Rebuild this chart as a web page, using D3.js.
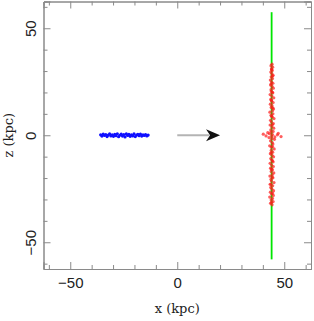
<!DOCTYPE html>
<html>
<head>
<meta charset="utf-8">
<script src="https://cdn.jsdelivr.net/npm/d3@7"></script>
<style>
  body { margin: 0; background: #fff; }
  svg { display: block; }
</style>
</head>
<body>
<div id="chart"></div>
<script>
// values (kpc)
const xMajor = [-50, 0, 50];
const xMinor = [-60, -40, -30, -20, -10, 10, 20, 30, 40, 60];
const zMajor = [-50, 0, 50];
const zMinor = [-60, -40, -30, -20, -10, 10, 20, 30, 40, 60];

// blue disk (initial galaxy), [x, z]
const bluePoints = [
    [-35.8, 0.2], [-35.2, -0.4], [-34.6, 0.5], [-34.0, -0.1], [-33.4, 0.3], [-32.8, -0.6],
    [-32.2, 0.1], [-31.6, 0.6], [-31.0, -0.3], [-30.4, 0.2], [-29.8, -0.5], [-29.2, 0.4],
    [-28.6, -0.2], [-28.0, 0.7], [-27.4, -0.7], [-26.8, 0.0], [-26.2, 0.5], [-25.6, -0.4],
    [-25.0, 0.3], [-24.4, -0.8], [-23.8, 0.6], [-23.2, -0.1], [-22.6, 0.4], [-22.0, -0.5],
    [-21.4, 0.2], [-20.8, -0.3], [-20.2, 0.6], [-19.6, -0.6], [-19.0, 0.1], [-18.4, 0.4],
    [-17.8, -0.2], [-17.2, 0.5], [-16.6, -0.4], [-16.0, 0.2], [-15.4, -0.1], [-14.8, 0.3],
    [-14.2, -0.3], [-13.6, 0.1]
];

// red stars, [x, z]
const redPoints = [
    [44.3, -32.5], [43.6, -31.8], [44.8, -31.0], [43.9, -30.2], [44.5, -29.5], [43.2, -28.9],
    [44.9, -28.1], [44.1, -27.4], [43.5, -26.6], [45.0, -25.9], [44.2, -25.1], [43.7, -24.4],
    [44.6, -23.6], [43.4, -22.9], [45.2, -22.1], [44.0, -21.4], [43.8, -20.6], [44.7, -19.9],
    [43.3, -19.1], [44.4, -18.4], [45.1, -17.6], [43.9, -16.9], [44.5, -16.1], [43.6, -15.4],
    [44.9, -14.6], [44.1, -13.9], [43.4, -13.1], [44.8, -12.4], [44.2, -11.6], [43.7, -10.9],
    [45.0, -10.1], [44.3, -9.4], [43.5, -8.6], [44.6, -7.9], [43.9, -7.1], [45.3, -6.4],
    [44.0, -5.6], [43.2, -4.9], [44.7, -4.1], [44.4, -3.4], [43.6, -2.6], [45.4, -1.9],
    [42.9, -1.1], [44.1, -0.4], [46.8, 0.2], [41.5, -0.3], [48.5, -0.6], [40.2, 0.5],
    [47.2, 0.9], [42.3, 1.2], [44.5, 0.3], [45.6, -0.8], [43.1, 0.7], [44.8, 1.8],
    [43.7, 2.5], [45.1, 3.3], [44.2, 4.0], [43.4, 4.8], [44.9, 5.5], [44.0, 6.3],
    [43.6, 7.0], [45.2, 7.8], [44.4, 8.5], [43.8, 9.3], [44.7, 10.0], [43.3, 10.8],
    [44.5, 11.5], [45.0, 12.3], [43.9, 13.0], [44.3, 13.8], [43.5, 14.5], [44.8, 15.3],
    [44.1, 16.0], [43.7, 16.8], [45.1, 17.5], [44.2, 18.3], [43.4, 19.0], [44.6, 19.8],
    [44.0, 20.5], [43.8, 21.3], [44.9, 22.0], [44.3, 22.8], [43.6, 23.5], [44.7, 24.3],
    [44.1, 25.0], [43.5, 25.8], [44.5, 26.5], [43.9, 27.3], [44.8, 28.0], [44.2, 28.8],
    [43.7, 29.5], [44.4, 30.3], [44.0, 31.0], [44.6, 31.8], [43.8, 32.5], [44.3, 33.2],
    [44.0, -31.4], [44.6, -27.0], [43.8, -23.0], [44.4, -19.5], [44.0, -15.8], [44.5, -12.0],
    [43.9, -8.2], [44.5, -5.2], [44.2, -1.5], [43.8, 1.5], [44.5, 5.0], [44.1, 8.9],
    [44.6, 12.8], [44.0, 16.4], [44.5, 20.1], [43.9, 24.0], [44.5, 27.7], [44.1, 30.7]
];

// green stream and arrow
const greenLine = [[44.1, -58], [44.1, 57.5]];
const arrowShaft = [[0, 0], [15, 0]];
const arrowTip = [20, 0];

const width = 314, height = 321;
const svg = d3.select("#chart").append("svg")
    .attr("width", width)
    .attr("height", height);

const x = d3.scaleLinear().domain([-62.5, 62.5]).range([43.5, 311]);
const y = d3.scaleLinear().domain([-62.5, 62.5]).range([269, 1.5]);

const axisColor = "#8a8a8a";

// data marks
const line = d3.line().x((d) => x(d[0])).y((d) => y(d[1]));

svg.append("path")
    .attr("d", line(greenLine))
    .attr("stroke", "#00e600")
    .attr("stroke-width", 1.8)
    .attr("fill", "none");

svg.append("g").selectAll("circle")
    .data(redPoints)
    .enter()
    .append("circle")
    .attr("cx", (d) => x(d[0]))
    .attr("cy", (d) => y(d[1]))
    .attr("r", 1.6)
    .attr("fill", "#ff1a1a")
    .attr("opacity", 0.7);

svg.append("g").selectAll("circle")
    .data(bluePoints)
    .enter()
    .append("circle")
    .attr("cx", (d) => x(d[0]))
    .attr("cy", (d) => y(d[1]))
    .attr("r", 1.6)
    .attr("fill", "#1010ff");

svg.append("path")
    .attr("d", line(arrowShaft))
    .attr("stroke", "#b4b4b4")
    .attr("stroke-width", 2)
    .attr("fill", "none");

// arrow head, barbed
const tx = x(arrowTip[0]), ty = y(arrowTip[1]);
svg.append("path")
    .attr("d", `M${tx},${ty} L${tx - 14},${ty - 6} L${tx - 10},${ty} L${tx - 14},${ty + 6} Z`)
    .attr("fill", "#111");

// axes with inward ticks, all four sides
function addAxis(axisFn, scale, transform, values, size, labels) {
    const g = svg.append("g")
        .attr("transform", transform)
        .call(axisFn(scale)
            .tickValues(values)
            .tickSize(-size)
            .tickFormat(labels ? (d) => (d < 0 ? "\u2212" + Math.abs(d) : d) : ""));
    g.select(".domain").attr("stroke", axisColor);
    g.selectAll(".tick line").attr("stroke", axisColor);
    return g;
}

addAxis(d3.axisBottom, x, `translate(0,${y(-62.5)})`, xMinor, 4, false);
addAxis(d3.axisTop, x, `translate(0,${y(62.5)})`, xMinor, 4, false);
addAxis(d3.axisLeft, y, `translate(${x(-62.5)},0)`, zMinor, 4, false);
addAxis(d3.axisRight, y, `translate(${x(62.5)},0)`, zMinor, 4, false);
addAxis(d3.axisTop, x, `translate(0,${y(62.5)})`, xMajor, 7, false);
addAxis(d3.axisRight, y, `translate(${x(62.5)},0)`, zMajor, 7, false);

const bottom = addAxis(d3.axisBottom, x, `translate(0,${y(-62.5)})`, xMajor, 7, true);
bottom.selectAll(".tick text")
    .attr("y", 19)
    .attr("dy", 0)
    .attr("fill", "#222")
    .style("font-family", "Liberation Sans, Arial, sans-serif")
    .style("font-size", "15px");

const left = addAxis(d3.axisLeft, y, `translate(${x(-62.5)},0)`, zMajor, 7, true);
left.selectAll(".tick text")
    .attr("x", null)
    .attr("dy", 0)
    .attr("text-anchor", "middle")
    .attr("transform", "translate(-8,0) rotate(-90)")
    .attr("fill", "#222")
    .style("font-family", "Liberation Sans, Arial, sans-serif")
    .style("font-size", "15px");

// axis titles
svg.append("text")
    .attr("x", x(0))
    .attr("y", 313)
    .attr("text-anchor", "middle")
    .attr("fill", "#222")
    .style("font-family", "DejaVu Serif, serif")
    .style("font-size", "13px")
    .text("x (kpc)");

svg.append("text")
    .attr("transform", `translate(13,${y(0)}) rotate(-90)`)
    .attr("text-anchor", "middle")
    .attr("fill", "#222")
    .style("font-family", "DejaVu Serif, serif")
    .style("font-size", "13px")
    .text("z (kpc)");
</script>
</body>
</html>
